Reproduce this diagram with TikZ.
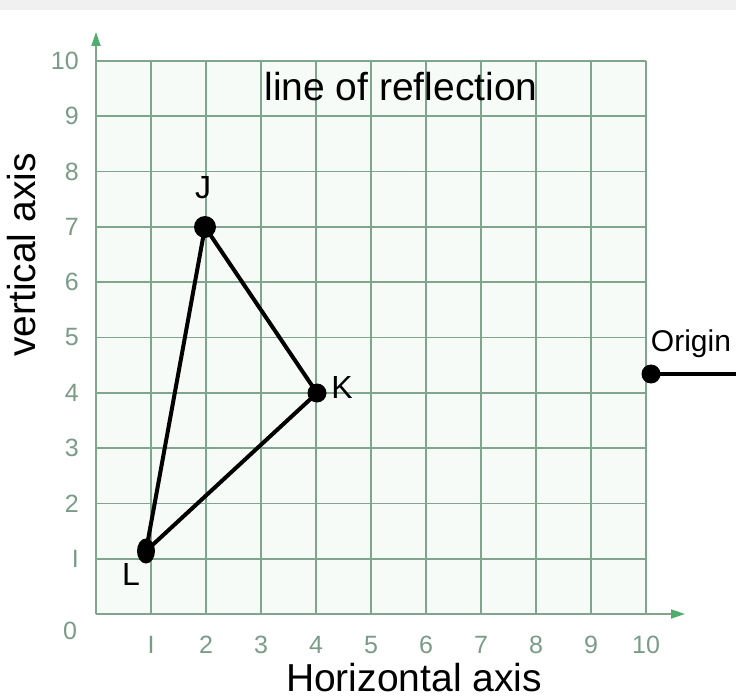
\documentclass[tikz,border=0pt]{standalone}
\usepackage{fontspec}
\setmainfont{Liberation Sans}
\usetikzlibrary{shapes.geometric,arrows.meta}
\definecolor{gridc}{HTML}{7FA68D}
\definecolor{tickc}{HTML}{7A9C87}
\definecolor{axc}{HTML}{4FAE6E}
\definecolor{mint}{HTML}{F6FBF8}
\tikzset{
  gridline/.style={draw=gridc, line width=1.8pt},
  axisline/.style={draw=gridc, line width=1.8pt, -{Triangle[length=14pt,width=9pt,fill=axc,color=axc]}},
  ticklbl/.style={text=tickc, font=\fontsize{25}{25}\selectfont, inner sep=0pt},
  bigtxt/.style={font=\fontsize{39}{40}\selectfont, inner sep=0pt},
  ptlbl/.style={font=\fontsize{32}{32}\selectfont, inner sep=0pt},
  dot/.style={circle, fill=black, inner sep=0pt},
  tri/.style={line width=4pt, line join=round, line cap=round},
}
\begin{document}
\begin{tikzpicture}[x=1pt,y=-1pt]
\useasboundingbox (0,0) rectangle (736,700);
\fill[white] (0,0) rectangle (736,700);
\fill[black!6] (0,0) rectangle (736,10);
\fill[mint] (96,61) rectangle (646,614);
% grid
\foreach \i in {1,...,10} {
  \draw[gridline] ({96+55*\i},61) -- ({96+55*\i},614);
}
\foreach \i in {1,...,10} {
  \draw[gridline] (96,{614-55.3*\i}) -- (646,{614-55.3*\i});
}
\draw[axisline] (96,614) -- (96,32);
\draw[axisline] (96,614) -- (685,614);
% tick labels
\node[ticklbl] (t0) at (70,631) {0};
\foreach \i in {1,...,10} {
  \node[ticklbl, anchor=east] (ty\i) at (79,{614-55.3*\i}) {\ifnum\i=1 I\else\i\fi};
  \node[ticklbl] (tx\i) at ({96+55*\i},645) {\ifnum\i=1 I\else\i\fi};
}
% texts
\node[bigtxt] (title) at (401,87) {line of reflection};
\node[bigtxt, anchor=base] (hax) at (414,691) {Horizontal axis};
\node[bigtxt, rotate=90] (vax) at (22,255) {vertical axis};
% triangle
\node[dot, minimum size=22pt] (J) at (205,227) {};
\node[dot, minimum size=19pt] (K) at (317,393) {};
\node[ellipse, fill=black, inner sep=0pt, minimum width=18pt, minimum height=25pt] (L) at (146,551) {};
\draw[tri] (J.center) -- (K.center) -- (L.center) -- cycle;
\node[ptlbl] (Jl) at (203,188) {J};
\node[ptlbl] (Kl) at (342,387) {K};
\node[ptlbl] (Ll) at (131,574) {L};
% origin
\node[dot, minimum size=19pt] (O) at (651,374) {};
\coordinate (Oend) at (736,374);
\draw[line width=4pt] (O.center) -- (Oend);
\node[font=\fontsize{30}{30}\selectfont, inner sep=0pt] (Ol) at (691,344) {Origin};
\end{tikzpicture}
\end{document}
